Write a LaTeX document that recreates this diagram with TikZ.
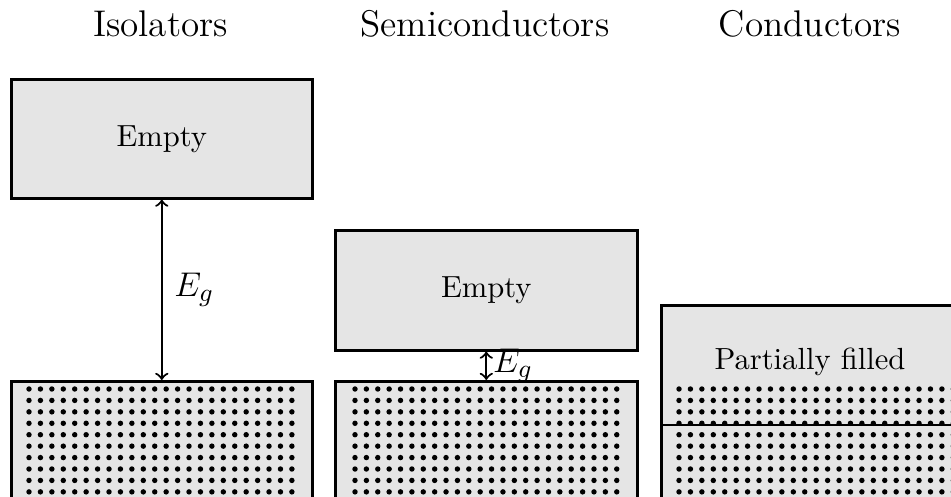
\documentclass[tikz,border=0pt]{standalone}
\begin{document}
\begin{tikzpicture}[x=0.35pt,y=-0.35pt,
  band/.style={draw=black, line width=0.9pt, fill=gray!20, inner sep=0pt, anchor=north west},
  title/.style={font=\fontsize{13}{16}\selectfont, anchor=base, inner sep=0pt},
  lab/.style={font=\fontsize{10.7}{13}\selectfont},
  gap/.style={<->, >=to, line width=0.75pt},
  eg/.style={font=\fontsize{13}{16}\selectfont},
  dotfill/.style={fill=black}]
\useasboundingbox (0,0) rectangle (951,497);
\clip (0,0) rectangle (951,497);
% titles
\node[title] (t1) at (160.5,37) {Isolators};
\node[title] (t2) at (485,37) {Semiconductors};
\node[title] (t3) at (810,37) {Conductors};
% isolators
\node[band, minimum width=105.35pt, minimum height=41.65pt] (isoC) at (10,78) {};
\node[lab] (isoCt) at (isoC.center) {Empty};
\node[band, minimum width=105.35pt, minimum height=50pt] (isoV) at (10,380) {};
\foreach \i in {0,...,23} \foreach \j in {0,...,10}
  \fill[dotfill] (29+\i*11.43, 389+\j*11.43) circle (0.95pt);
\draw[gap] (isoC.south) -- (isoV.north) node[midway, right, eg, inner sep=4pt] (eg1) {$E_g$};
% semiconductors
\node[band, minimum width=105.7pt, minimum height=42pt] (semC) at (334,229) {};
\node[lab] (semCt) at (semC.center) {Empty};
\node[band, minimum width=105.7pt, minimum height=50pt] (semV) at (334,380) {};
\foreach \i in {0,...,23} \foreach \j in {0,...,10}
  \fill[dotfill] (355+\i*11.38, 389+\j*11.43) circle (0.95pt);
\draw[gap] (semC.south) -- (semV.north) node[midway, right, eg, inner sep=2pt] (eg2) {$E_g$};
% conductors
\node[band, minimum width=115pt, minimum height=80pt] (cond) at (660,304) {};
\node[lab] (condt) at (810,362) {Partially filled};
\foreach \i in {0,...,25} \foreach \j in {0,...,10}
  \fill[dotfill] (679+\i*11.43, 389+\j*11.43) circle (0.95pt);
\coordinate (cl) at (660,425);
\coordinate (cr) at (990,425);
\draw[line width=0.9pt] (cl) -- (cr);
\end{tikzpicture}
\end{document}
